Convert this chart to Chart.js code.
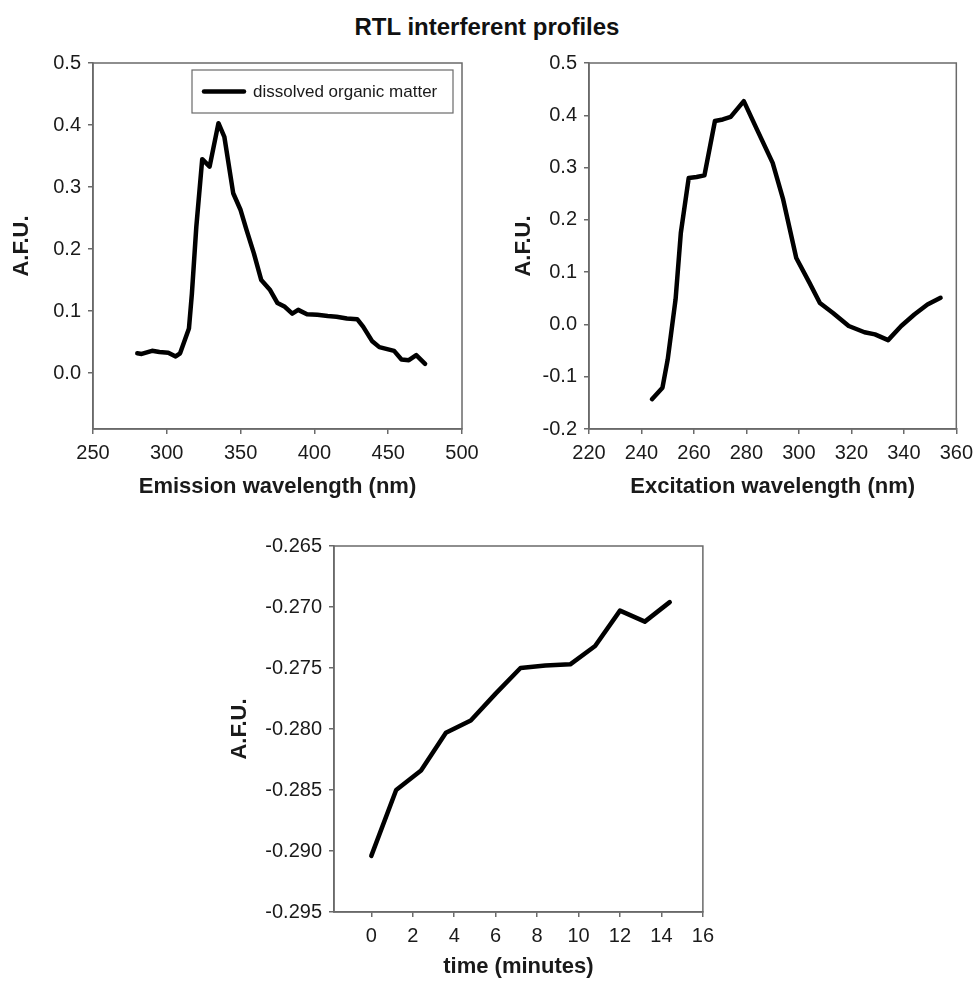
<!DOCTYPE html>
<html>
<head>
<meta charset="utf-8">
<script src="https://cdn.jsdelivr.net/npm/chart.js@4.4.1/dist/chart.umd.min.js"></script>
<style>
  html, body { margin: 0; padding: 0; background: #fff; }
  body { width: 974px; height: 986px; position: relative; overflow: hidden; font-family: "Liberation Sans", Arial, sans-serif; }
  #title { position: absolute; left: 0; top: 13px; width: 974px; text-align: center; font-weight: bold; font-size: 24px; color: #111; }
  .box { position: absolute; }
</style>
</head>
<body>
<div id="title">RTL interferent profiles</div>
<div class="box" style="left:0px;top:44px;width:490px;height:456px;"><canvas id="c1"></canvas></div>
<div class="box" style="left:510px;top:44px;width:470px;height:456px;"><canvas id="c2"></canvas></div>
<div class="box" style="left:220px;top:527px;width:501px;height:453px;"><canvas id="c3"></canvas></div>
<script>
// ---------- data ----------
const emissionX = [280, 283, 290, 295, 301, 306, 309, 315, 317, 320, 324, 329, 335, 339, 345, 350, 354, 359, 364, 370, 375, 380, 385, 389, 395, 402, 409, 415, 422, 429, 433, 439, 444, 454, 459, 464, 469, 475];
const emissionY = [0.032, 0.031, 0.036, 0.034, 0.033, 0.027, 0.032, 0.072, 0.128, 0.236, 0.345, 0.333, 0.403, 0.381, 0.290, 0.263, 0.231, 0.193, 0.150, 0.134, 0.113, 0.107, 0.096, 0.102, 0.095, 0.094, 0.092, 0.091, 0.088, 0.087, 0.075, 0.052, 0.042, 0.036, 0.022, 0.021, 0.029, 0.015];
const emissionLabel = "dissolved organic matter";

const excitationX = [244, 248, 250, 253, 255, 258, 261, 264, 268, 271, 274, 279, 284, 290, 294, 299, 304, 308, 313, 319, 325, 329, 334, 339, 344, 349, 354];
const excitationY = [-0.143, -0.121, -0.067, 0.048, 0.175, 0.280, 0.282, 0.285, 0.389, 0.392, 0.397, 0.427, 0.373, 0.309, 0.239, 0.127, 0.080, 0.041, 0.022, -0.003, -0.015, -0.019, -0.030, -0.003, 0.019, 0.038, 0.051];

const timeX = [0, 1.2, 2.4, 3.6, 4.8, 6.0, 7.2, 8.4, 9.6, 10.8, 12.0, 13.2, 14.4];
const timeY = [-0.2904, -0.2850, -0.2834, -0.2803, -0.2793, -0.2771, -0.2750, -0.2748, -0.2747, -0.2732, -0.2703, -0.2712, -0.2696];

const emissionXTicks = [250, 300, 350, 400, 450, 500];
const emissionYTicks = [0.0, 0.1, 0.2, 0.3, 0.4, 0.5];
const excitationXTicks = [220, 240, 260, 280, 300, 320, 340, 360];
const excitationYTicks = [-0.2, -0.1, 0.0, 0.1, 0.2, 0.3, 0.4, 0.5];
const timeXTicks = [0, 2, 4, 6, 8, 10, 12, 14, 16];
const timeYTicks = [-0.295, -0.290, -0.285, -0.280, -0.275, -0.270, -0.265];

// ---------- helpers ----------
const FONT = "'Liberation Sans', Arial, sans-serif";
const AXIS_COLOR = '#6a6a6a';
const TEXT_COLOR = '#1a1a1a';

function pts(xs, ys) { return xs.map((x, i) => ({ x: x, y: ys[i] })); }

const framePlugin = {
  id: 'frame',
  afterDatasetsDraw(chart) {
    const a = chart.chartArea, ctx = chart.ctx;
    ctx.save();
    ctx.strokeStyle = AXIS_COLOR;
    ctx.lineWidth = 1.5;
    ctx.strokeRect(a.left, a.top, a.right - a.left, a.bottom - a.top);
    ctx.restore();
  }
};

const insideLegendPlugin = {
  id: 'insideLegend',
  afterDraw(chart, args, opts) {
    if (!opts || !opts.show) return;
    const a = chart.chartArea, ctx = chart.ctx;
    const ds = chart.data.datasets[0];
    const w = 261, h = 43;
    const x = a.right - 9 - w, y = a.top + 7;
    ctx.save();
    ctx.fillStyle = '#fff';
    ctx.fillRect(x, y, w, h);
    ctx.strokeStyle = AXIS_COLOR;
    ctx.lineWidth = 1.2;
    ctx.strokeRect(x, y, w, h);
    ctx.strokeStyle = ds.borderColor;
    ctx.lineWidth = 4.5;
    ctx.lineCap = 'round';
    ctx.beginPath();
    ctx.moveTo(x + 12, y + h / 2);
    ctx.lineTo(x + 52, y + h / 2);
    ctx.stroke();
    ctx.fillStyle = TEXT_COLOR;
    ctx.font = '17px ' + FONT;
    ctx.textBaseline = 'middle';
    ctx.fillText(ds.label, x + 61, y + h / 2 + 1);
    ctx.restore();
  }
};

function axisCommon(tickValues, decimals, titleText, titlePad, fixedSize, isY) {
  return {
    type: 'linear',
    afterBuildTicks: (axis) => { axis.ticks = tickValues.map(v => ({ value: v })); },
    afterFit: (scale) => { if (isY) scale.width = fixedSize; else scale.height = fixedSize; },
    border: { display: true, color: AXIS_COLOR, width: 1.5 },
    grid: { display: true, drawOnChartArea: false, drawTicks: true, tickLength: 5, color: AXIS_COLOR, lineWidth: 1.5 },
    ticks: {
      color: TEXT_COLOR,
      padding: 7,
      autoSkip: false,
      maxRotation: 0,
      font: { family: FONT, size: 20 },
      callback: (v) => decimals === null ? String(v) : Number(v).toFixed(decimals)
    },
    title: {
      display: true,
      text: titleText,
      color: TEXT_COLOR,
      font: { family: FONT, size: 22, weight: 'bold' },
      padding: titlePad
    }
  };
}

function makeChart(id, data, label, xCfg, yCfg, xMin, xMax, yMin, yMax, padding, legend) {
  const xs = axisCommon(xCfg.ticks, null, xCfg.title, xCfg.pad, xCfg.size, false);
  xs.min = xMin; xs.max = xMax;
  const ys = axisCommon(yCfg.ticks, yCfg.dec, 'A.F.U.', yCfg.pad, yCfg.size, true);
  ys.min = yMin; ys.max = yMax;
  return new Chart(document.getElementById(id), {
    type: 'scatter',
    data: {
      datasets: [{
        label: label,
        data: data,
        showLine: true,
        borderColor: '#000',
        backgroundColor: '#000',
        borderWidth: 4.5,
        pointRadius: 0,
        tension: 0,
        borderJoinStyle: 'round',
        borderCapStyle: 'round'
      }]
    },
    options: {
      responsive: true,
      maintainAspectRatio: false,
      animation: false,
      layout: { padding: padding },
      plugins: {
        legend: { display: false },
        tooltip: { enabled: false },
        insideLegend: { show: legend }
      },
      scales: { x: xs, y: ys }
    },
    plugins: [framePlugin, insideLegendPlugin]
  });
}

makeChart('c1', pts(emissionX, emissionY), emissionLabel,
  { ticks: emissionXTicks, title: 'Emission wavelength (nm)', pad: { top: 0, bottom: 0 }, size: 71 },
  { ticks: emissionYTicks, dec: 1, pad: { top: 9, bottom: 0 }, size: 93 },
  250, 500, -0.09, 0.5,
  { top: 13, right: 28, left: 0, bottom: 0 }, true);

makeChart('c2', pts(excitationX, excitationY), 'excitation',
  { ticks: excitationXTicks, title: 'Excitation wavelength (nm)', pad: { top: 0, bottom: 0 }, size: 71 },
  { ticks: excitationYTicks, dec: 1, pad: { top: 1, bottom: 0 }, size: 79 },
  220, 360, -0.2, 0.5,
  { top: 13, right: 18, left: 0, bottom: 0 }, false);

makeChart('c3', pts(timeX, timeY), 'time',
  { ticks: timeXTicks, title: 'time (minutes)', pad: { top: 0, bottom: 0 }, size: 68 },
  { ticks: timeYTicks, dec: 3, pad: { top: 7, bottom: 0 }, size: 114 },
  -1.8, 16, -0.295, -0.265,
  { top: 12, right: 8, left: 0, bottom: 0 }, false);
</script>
</body>
</html>
